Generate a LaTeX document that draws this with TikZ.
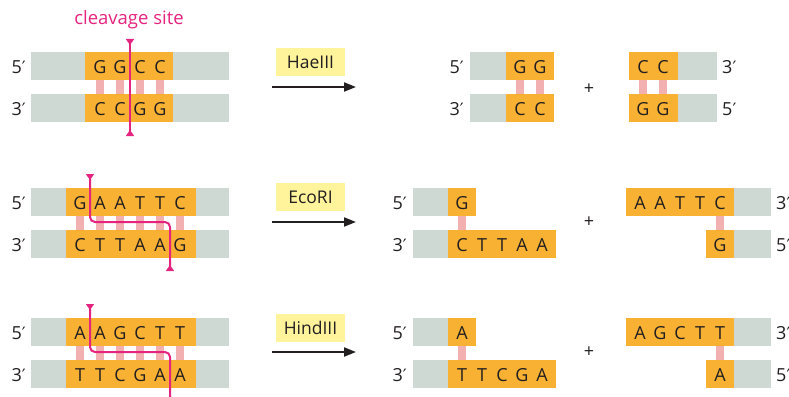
\documentclass[tikz,border=0pt]{standalone}
\usepackage{fontspec}
\setmainfont{Open Sans}
\newfontfamily\primefont{DejaVu Sans}
\usetikzlibrary{arrows.meta}
\definecolor{dnagray}{HTML}{CFD9D4}
\definecolor{dnaorange}{HTML}{F8B133}
\definecolor{bondpink}{HTML}{F2B0B0}
\definecolor{cutpink}{HTML}{E5247F}
\definecolor{enzyellow}{HTML}{FFF49C}
\definecolor{ink}{HTML}{231F20}
\newcommand\primelbl[1]{#1{\primefont\fontsize{17}{18}\selectfont\symbol{"2032}}}
\begin{document}
\begin{tikzpicture}[x=1pt,y=-1pt,
  graystrand/.style={fill=dnagray},
  orangestrand/.style={fill=dnaorange},
  bond/.style={fill=bondpink},
  base/.style={text=ink,font=\fontsize{18}{20}\selectfont,inner sep=0pt,text height=13pt,text depth=0pt,anchor=center},
  endlbl/.style={text=ink,font=\fontsize{18}{20}\selectfont,inner sep=0pt,text height=13pt,text depth=0pt},
  cutline/.style={draw=cutpink,line width=2pt,rounded corners=5pt},
  enzbox/.style={fill=enzyellow,text=ink,font=\fontsize{17.5}{19}\selectfont,inner sep=0pt,minimum width=69pt,minimum height=28pt},
  reaction/.style={draw=ink,line width=2pt,-{Triangle[length=12pt,width=9pt]}},
  plus/.style={text=ink,font=\fontsize{18}{20}\selectfont,inner sep=0pt}
]
\useasboundingbox (0,0) rectangle (789,396);

% ================= Row 1 : HaeIII =================
\fill[graystrand] (31,52) rectangle (229,80);
\fill[graystrand] (31,94) rectangle (229,122);
\fill[orangestrand] (85,52) rectangle (173,80);
\fill[orangestrand] (85,94) rectangle (173,122);
\foreach \x in {100,120,140,160} \fill[bond] (\x-4,80) rectangle (\x+4,94);
\foreach \c [count=\i] in {G,G,C,C} \node[base] (h-t-\i) at ({80+20*\i},67) {\c};
\foreach \c [count=\i] in {C,C,G,G} \node[base] (h-b-\i) at ({80+20*\i},109) {\c};
\node[endlbl,anchor=east] (h-l5) at (26,67) {\primelbl{5}};
\node[endlbl,anchor=east] (h-l3) at (26,109) {\primelbl{3}};
\node[text=cutpink,font=\fontsize{18.5}{20}\selectfont,inner sep=0pt] (cleave) at (129,20) {cleavage site};
\coordinate (hc-top) at (130,39);
\coordinate (hc-bot) at (130,136);
\draw[cutline,{Triangle[reversed,length=6pt,width=8pt]}-{Triangle[reversed,length=6pt,width=8pt]}] (hc-top) -- (hc-bot);

\node[enzbox] (hae) at (310.5,62) {HaeIII};
\coordinate (ha-s) at (272,87);
\coordinate (ha-e) at (356,87);
\draw[reaction] (ha-s) -- (ha-e);

% products
\fill[graystrand] (470,52) rectangle (506,80);
\fill[graystrand] (470,94) rectangle (506,122);
\fill[orangestrand] (506,52) rectangle (554,80);
\fill[orangestrand] (506,94) rectangle (554,122);
\foreach \x in {520,540} \fill[bond] (\x-4,80) rectangle (\x+4,94);
\node[base] (hp1-t1) at (520,67) {G};
\node[base] (hp1-t2) at (540,67) {G};
\node[base] (hp1-b1) at (520,109) {C};
\node[base] (hp1-b2) at (540,109) {C};
\node[endlbl,anchor=east] (hp1-l5) at (464,67) {\primelbl{5}};
\node[endlbl,anchor=east] (hp1-l3) at (464,109) {\primelbl{3}};
\node[plus] (h-plus) at (589,89) {+};
\fill[orangestrand] (629,52) rectangle (678,80);
\fill[orangestrand] (629,94) rectangle (678,122);
\fill[graystrand] (678,52) rectangle (717,80);
\fill[graystrand] (678,94) rectangle (717,122);
\foreach \x in {643,663} \fill[bond] (\x-4,80) rectangle (\x+4,94);
\node[base] (hp2-t1) at (643,67) {C};
\node[base] (hp2-t2) at (663,67) {C};
\node[base] (hp2-b1) at (643,109) {G};
\node[base] (hp2-b2) at (663,109) {G};
\node[endlbl,anchor=west] (hp2-l3) at (722,67) {\primelbl{3}};
\node[endlbl,anchor=west] (hp2-l5) at (722,109) {\primelbl{5}};

% ================= Row 2 : EcoRI =================
\fill[graystrand] (31,188) rectangle (229,216);
\fill[graystrand] (31,230) rectangle (229,258);
\fill[orangestrand] (66,188) rectangle (196,216);
\fill[orangestrand] (66,230) rectangle (196,258);
\foreach \x in {80,100,...,180} \fill[bond] (\x-4,216) rectangle (\x+4,230);
\foreach \c [count=\i] in {G,A,A,T,T,C} \node[base] (e-t-\i) at ({60+20*\i},203) {\c};
\foreach \c [count=\i] in {C,T,T,A,A,G} \node[base] (e-b-\i) at ({60+20*\i},245) {\c};
\node[endlbl,anchor=east] (e-l5) at (26,203) {\primelbl{5}};
\node[endlbl,anchor=east] (e-l3) at (26,245) {\primelbl{3}};
\coordinate (ec-top) at (90,174);
\coordinate (ec-bot) at (170,271);
\draw[cutline,{Triangle[reversed,length=6pt,width=8pt]}-{Triangle[reversed,length=6pt,width=8pt]}] (ec-top) -- (90,222) -- (170,222) -- (ec-bot);

\node[enzbox] (eco) at (310.5,197) {EcoRI};
\coordinate (ea-s) at (272,222);
\coordinate (ea-e) at (356,222);
\draw[reaction] (ea-s) -- (ea-e);

% products
\fill[graystrand] (413,188) rectangle (448,216);
\fill[orangestrand] (448,188) rectangle (476,216);
\fill[graystrand] (413,230) rectangle (448,258);
\fill[orangestrand] (448,230) rectangle (556,258);
\fill[bond] (458,216) rectangle (466,230);
\node[base] (ep1-t1) at (462,203) {G};
\foreach \c [count=\i] in {C,T,T,A,A} \node[base] (ep1-b-\i) at ({442+20*\i},245) {\c};
\node[endlbl,anchor=east] (ep1-l5) at (407,203) {\primelbl{5}};
\node[endlbl,anchor=east] (ep1-l3) at (407,245) {\primelbl{3}};
\node[plus] (e-plus) at (589,222) {+};
\fill[orangestrand] (626,188) rectangle (734,216);
\fill[graystrand] (734,188) rectangle (771,216);
\fill[orangestrand] (706,230) rectangle (734,258);
\fill[graystrand] (734,230) rectangle (771,258);
\fill[bond] (716,216) rectangle (724,230);
\foreach \c [count=\i] in {A,A,T,T,C} \node[base] (ep2-t-\i) at ({620+20*\i},203) {\c};
\node[base] (ep2-b1) at (720,245) {G};
\node[endlbl,anchor=west] (ep2-l3) at (776,203) {\primelbl{3}};
\node[endlbl,anchor=west] (ep2-l5) at (776,245) {\primelbl{5}};

% ================= Row 3 : HindIII =================
\fill[graystrand] (31,318) rectangle (229,346);
\fill[graystrand] (31,360) rectangle (229,388);
\fill[orangestrand] (66,318) rectangle (196,346);
\fill[orangestrand] (66,360) rectangle (196,388);
\foreach \x in {80,100,...,180} \fill[bond] (\x-4,346) rectangle (\x+4,360);
\foreach \c [count=\i] in {A,A,G,C,T,T} \node[base] (d-t-\i) at ({60+20*\i},333) {\c};
\foreach \c [count=\i] in {T,T,C,G,A,A} \node[base] (d-b-\i) at ({60+20*\i},375) {\c};
\node[endlbl,anchor=east] (d-l5) at (26,333) {\primelbl{5}};
\node[endlbl,anchor=east] (d-l3) at (26,375) {\primelbl{3}};
\coordinate (dc-top) at (90,304);
\coordinate (dc-bot) at (170,401);
\draw[cutline,{Triangle[reversed,length=6pt,width=8pt]}-{Triangle[reversed,length=6pt,width=8pt]}] (dc-top) -- (90,352) -- (170,352) -- (dc-bot);

\node[enzbox] (hind) at (310.5,328) {HindIII};
\coordinate (da-s) at (272,352);
\coordinate (da-e) at (356,352);
\draw[reaction] (da-s) -- (da-e);

% products
\fill[graystrand] (413,318) rectangle (448,346);
\fill[orangestrand] (448,318) rectangle (476,346);
\fill[graystrand] (413,360) rectangle (448,388);
\fill[orangestrand] (448,360) rectangle (556,388);
\fill[bond] (458,346) rectangle (466,360);
\node[base] (dp1-t1) at (462,333) {A};
\foreach \c [count=\i] in {T,T,C,G,A} \node[base] (dp1-b-\i) at ({442+20*\i},375) {\c};
\node[endlbl,anchor=east] (dp1-l5) at (407,333) {\primelbl{5}};
\node[endlbl,anchor=east] (dp1-l3) at (407,375) {\primelbl{3}};
\node[plus] (d-plus) at (589,352) {+};
\fill[orangestrand] (626,318) rectangle (734,346);
\fill[graystrand] (734,318) rectangle (771,346);
\fill[orangestrand] (706,360) rectangle (734,388);
\fill[graystrand] (734,360) rectangle (771,388);
\fill[bond] (716,346) rectangle (724,360);
\foreach \c [count=\i] in {A,G,C,T,T} \node[base] (dp2-t-\i) at ({620+20*\i},333) {\c};
\node[base] (dp2-b1) at (720,375) {A};
\node[endlbl,anchor=west] (dp2-l3) at (776,333) {\primelbl{3}};
\node[endlbl,anchor=west] (dp2-l5) at (776,375) {\primelbl{5}};
\end{tikzpicture}
\end{document}
